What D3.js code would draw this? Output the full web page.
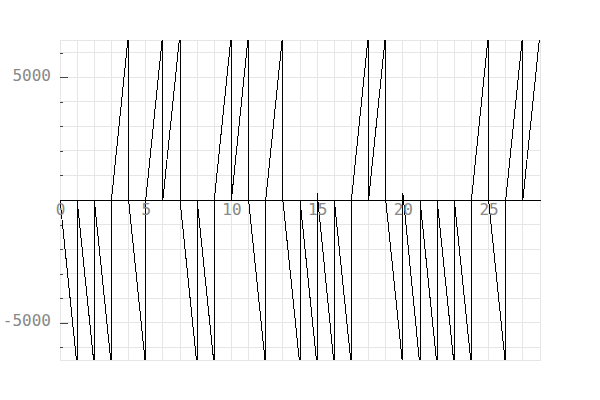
<!DOCTYPE html>
<html>
<head>
<meta charset="utf-8">
<script src="https://cdn.jsdelivr.net/npm/d3@7"></script>
<style>
  body { margin: 0; background: #fff; }
  .tick text { font-family: "DejaVu Sans Mono", monospace; fill: #888; }
</style>
</head>
<body>
<script>
// each unit interval [k, k+1] holds one straight ramp: from segStart to segEnd
const segX     = [0, 1, 2, 3, 4, 5, 6, 7, 8, 9, 10, 11, 12, 13,
                  14, 15, 16, 17, 18, 19, 20, 21, 22, 23, 24, 25, 26, 27];
const segStart = [0, 0, 0, 0, 0, 0, 0, 0, 0, 0, 0, 0, 0, 0,
                  0, 300, 0, 0, 0, 0, 280, 0, 0, 0, 0, 0, 0, 0];
const segEnd   = [-6800, -6800, -6800, 6800, -6800, 6800, 6800, -6800, -6800, 6800, 6800, -6800, 6800, -6800,
                  -6800, -6800, -6800, 6800, 6800, -6800, -6800, -6800, -6800, -6800, 6800, -6800, 6800, 6800];

const xTickLabels = [0, 5, 10, 15, 20, 25];
const yTickLabels = [-5000, 5000];

const width = 600, height = 400;
const margin = {top: 40, right: 60, bottom: 40, left: 60};

// line points: start of each ramp then its end
let points = [];
segX.forEach((x0, i) => {
    points.push({x: x0, y: segStart[i]});
    points.push({x: x0 + 1, y: segEnd[i]});
});

let xScale = d3.scaleLinear()
    .domain([0, 28])
    .range([margin.left, width - margin.right]);

let yScale = d3.scaleLinear()
    .domain([-6520, 6520])
    .range([height - margin.bottom, margin.top]);

let svg = d3.select("body").append("svg")
    .attr("width", width)
    .attr("height", height);

// grid
let grid = svg.append("g")
    .attr("stroke", "#e6e6e6")
    .attr("shape-rendering", "crispEdges");

grid.selectAll(".gx")
    .data(xScale.ticks(28))
    .enter().append("line")
    .attr("x1", d => xScale(d)).attr("x2", d => xScale(d))
    .attr("y1", margin.top).attr("y2", height - margin.bottom);

grid.selectAll(".gy")
    .data(yScale.ticks(13))
    .enter().append("line")
    .attr("x1", margin.left).attr("x2", width - margin.right)
    .attr("y1", d => yScale(d)).attr("y2", d => yScale(d));

grid.append("rect")
    .attr("x", margin.left).attr("y", margin.top)
    .attr("width", width - margin.left - margin.right)
    .attr("height", height - margin.top - margin.bottom)
    .attr("fill", "none");

// y ticks drawn inward, labels outside
let yMinor = d3.axisRight(yScale).ticks(13).tickSize(3).tickFormat("");
svg.append("g")
    .attr("transform", "translate(" + margin.left + ",0)")
    .call(yMinor)
    .call(g => g.select(".domain").remove())
    .call(g => g.selectAll("line").attr("stroke", "#444").attr("shape-rendering", "crispEdges"));

let yMajor = d3.axisRight(yScale).tickValues(yTickLabels).tickSize(8).tickFormat("");
svg.append("g")
    .attr("transform", "translate(" + margin.left + ",0)")
    .call(yMajor)
    .call(g => g.select(".domain").remove())
    .call(g => g.selectAll("line").attr("stroke", "#444").attr("shape-rendering", "crispEdges"));

let yAxis = d3.axisLeft(yScale).tickValues(yTickLabels).tickSize(0).tickPadding(9)
    .tickFormat(d => String(d));
svg.append("g")
    .attr("transform", "translate(" + margin.left + ",0)")
    .call(yAxis)
    .call(g => g.select(".domain").remove())
    .call(g => g.selectAll("text").attr("font-size", 16).attr("dy", "0.2em"));

// the data line, clipped to the plot area
svg.append("clipPath").attr("id", "clip")
    .append("rect")
    .attr("x", margin.left).attr("y", margin.top)
    .attr("width", width - margin.left - margin.right)
    .attr("height", height - margin.top - margin.bottom);

let line = d3.line()
    .x(d => xScale(d.x))
    .y(d => yScale(d.y));

svg.append("path")
    .datum(points)
    .attr("clip-path", "url(#clip)")
    .attr("fill", "none")
    .attr("stroke", "#000")
    .attr("stroke-width", 1)
    .attr("shape-rendering", "crispEdges")
    .attr("d", line);

// x axis along y = 0
let xAxis = d3.axisBottom(xScale).tickValues(xTickLabels).tickSize(0).tickPadding(4)
    .tickFormat(d => String(d));
svg.append("g")
    .attr("transform", "translate(0," + yScale(0) + ")")
    .call(xAxis)
    .call(g => g.select(".domain").attr("stroke", "#000").attr("shape-rendering", "crispEdges"))
    .call(g => g.selectAll("text").attr("font-size", 16));
</script>
</body>
</html>
